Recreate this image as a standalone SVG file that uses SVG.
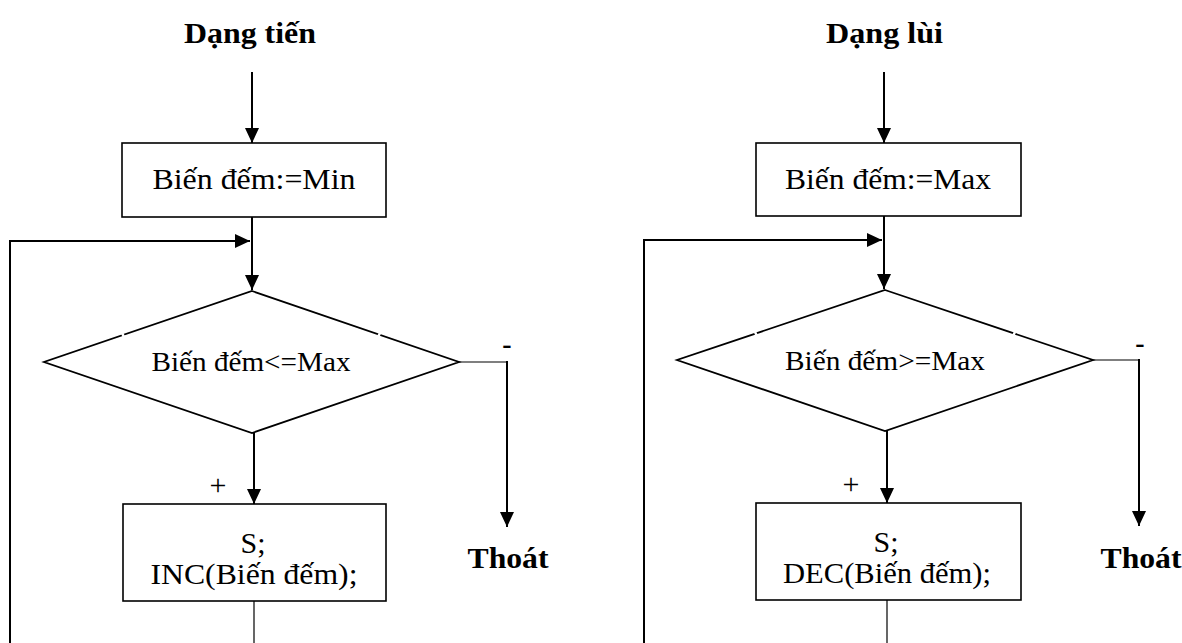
<svg xmlns="http://www.w3.org/2000/svg" width="1182" height="643" viewBox="0 0 1182 643">
  <defs>
    <marker id="arrow" markerUnits="userSpaceOnUse" markerWidth="16" markerHeight="14" refX="15" refY="7" orient="auto">
      <path d="M0,0 L15,7 L0,14 z" fill="#000"/>
    </marker>
    <style>
      .box { fill: #fff; stroke: #000; stroke-width: 1.6; }
      .dia { fill: #fff; stroke: #000; stroke-width: 1.8; }
      .flow { fill: none; stroke: #000; stroke-width: 2; }
      .thin { fill: none; stroke: #000; stroke-width: 1.2; }
      .arrow { marker-end: url(#arrow); }
      .gap { stroke: #fff; stroke-width: 2.5; }
      text { font-family: "Liberation Serif", "Times New Roman", serif; fill: #000; }
      .title { font-size: 30px; font-weight: bold; }
      .lbl { font-size: 30px; text-anchor: middle; }
      .cond { font-size: 27px; text-anchor: middle; }
      .sign { font-size: 30px; text-anchor: middle; }
      .exit { font-size: 30px; font-weight: bold; text-anchor: middle; }
      .dash { font-size: 28px; font-weight: bold; text-anchor: middle; }
    </style>
  </defs>

  <!-- ===== Counting up (left) ===== -->
  <text class="title" x="184" y="43" textLength="132" lengthAdjust="spacingAndGlyphs">Dạng tiến</text>

  <g id="connectors-up">
    <line class="flow arrow" x1="252" y1="72" x2="252" y2="143"/>
    <polyline class="flow arrow" points="10,643 10,241 250,241"/>
    <line class="flow arrow" x1="252" y1="217" x2="252" y2="290"/>
    <polyline class="thin" points="459,362 507,362"/>
    <line class="flow arrow" x1="507" y1="361" x2="507" y2="527"/>
    <line class="flow arrow" x1="254" y1="433" x2="254" y2="504"/>
    <line class="thin" x1="254" y1="601" x2="254" y2="643"/>
  </g>

  <g id="init-up">
    <rect class="box" x="122" y="143" width="264" height="74"/>
    <text class="lbl" x="254" y="189" textLength="203" lengthAdjust="spacingAndGlyphs">Biến đếm:=Min</text>
  </g>

  <g id="test-up">
    <polygon class="dia" points="252,291 459,362 252,433 44,362"/>
    <line class="gap" x1="122" y1="333" x2="124" y2="337"/>
    <line class="gap" x1="380" y1="333" x2="378" y2="337"/>
    <text class="cond" x="251" y="371" textLength="199" lengthAdjust="spacingAndGlyphs">Biến đếm&lt;=Max</text>
  </g>

  <g id="body-up">
    <rect class="box" x="123" y="504" width="263" height="97"/>
    <text class="lbl" x="253" y="553" textLength="25" lengthAdjust="spacingAndGlyphs">S;</text>
    <text class="lbl" x="254" y="584" textLength="207" lengthAdjust="spacingAndGlyphs">INC(Biến đếm);</text>
  </g>

  <g id="labels-up">
    <text class="sign" x="218" y="495">+</text>
    <text class="dash" x="507" y="353">-</text>
    <text class="exit" x="508" y="568" textLength="81" lengthAdjust="spacingAndGlyphs">Thoát</text>
  </g>

  <!-- ===== Counting down (right) ===== -->
  <text class="title" x="826" y="43" textLength="117" lengthAdjust="spacingAndGlyphs">Dạng lùi</text>

  <g id="connectors-down">
    <line class="flow arrow" x1="884" y1="72" x2="884" y2="143"/>
    <polyline class="flow arrow" points="644,643 644,240 882,240"/>
    <line class="flow arrow" x1="884" y1="216" x2="884" y2="289"/>
    <polyline class="thin" points="1093,360 1139,360"/>
    <line class="flow arrow" x1="1139" y1="359" x2="1139" y2="526"/>
    <line class="flow arrow" x1="887" y1="431" x2="887" y2="503"/>
    <line class="thin" x1="887" y1="600" x2="887" y2="643"/>
  </g>

  <g id="init-down">
    <rect class="box" x="756" y="143" width="265" height="73"/>
    <text class="lbl" x="888" y="189" textLength="206" lengthAdjust="spacingAndGlyphs">Biến đếm:=Max</text>
  </g>

  <g id="test-down">
    <polygon class="dia" points="885,290 1093,360 885,431 677,360"/>
    <line class="gap" x1="755" y1="332" x2="757" y2="336"/>
    <line class="gap" x1="1015" y1="332" x2="1013" y2="336"/>
    <text class="cond" x="885" y="370" textLength="200" lengthAdjust="spacingAndGlyphs">Biến đếm&gt;=Max</text>
  </g>

  <g id="body-down">
    <rect class="box" x="756" y="503" width="265" height="97"/>
    <text class="lbl" x="886" y="552" textLength="25" lengthAdjust="spacingAndGlyphs">S;</text>
    <text class="lbl" x="887" y="583" textLength="208" lengthAdjust="spacingAndGlyphs">DEC(Biến đếm);</text>
  </g>

  <g id="labels-down">
    <text class="sign" x="851" y="494">+</text>
    <text class="dash" x="1140" y="352">-</text>
    <text class="exit" x="1141" y="568" textLength="81" lengthAdjust="spacingAndGlyphs">Thoát</text>
  </g>
</svg>
